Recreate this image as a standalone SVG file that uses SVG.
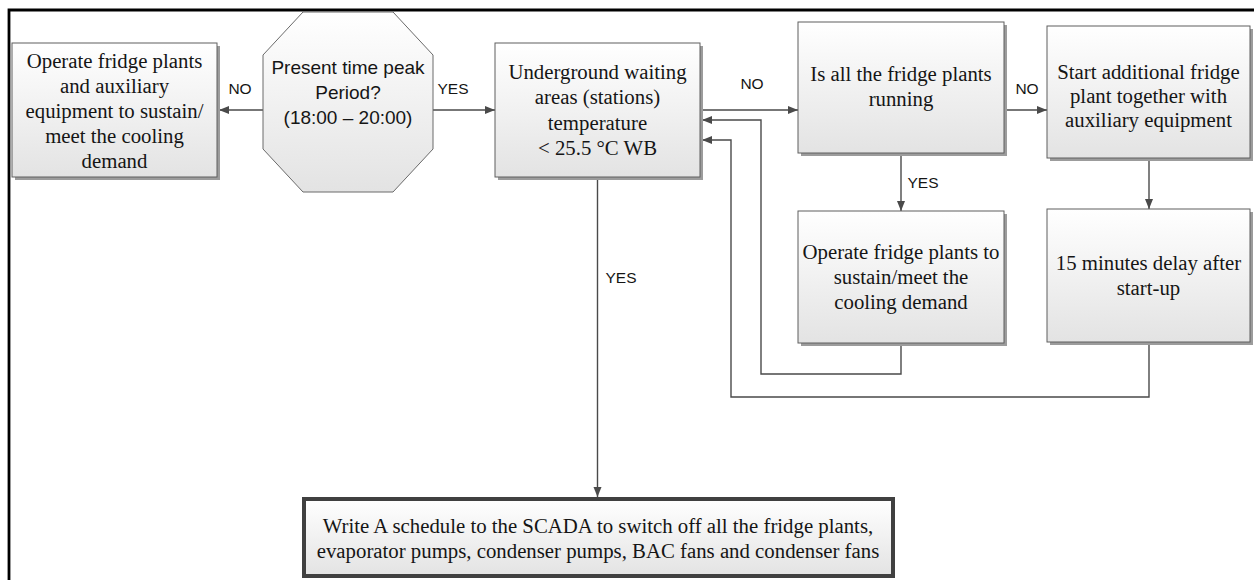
<svg xmlns="http://www.w3.org/2000/svg" width="1254" height="580" viewBox="0 0 1254 580">
<style>
.box{fill:url(#g);stroke:#5f5f5f;stroke-width:1}
.sh{fill:#9c9c9c}
.t{font-family:"Liberation Serif","Times New Roman",serif;font-size:20.8px;fill:#151515;text-anchor:middle}
.s{font-family:"Liberation Sans",Arial,sans-serif;font-size:19px;fill:#151515;text-anchor:middle}
.lbl{font-family:"Liberation Sans",Arial,sans-serif;font-size:15.5px;fill:#151515;text-anchor:middle}
.c{fill:none;stroke:#4a4a4a;stroke-width:1.4;marker-end:url(#ah)}
.cl{fill:none;stroke:#4a4a4a;stroke-width:1.4}
</style>
<defs>
<linearGradient id="g" x1="0" y1="0" x2="0" y2="1">
<stop offset="0" stop-color="#ffffff"/>
<stop offset="1" stop-color="#e3e3e3"/>
</linearGradient>
<marker id="ah" markerUnits="userSpaceOnUse" markerWidth="10" markerHeight="10" viewBox="0 0 10 10" refX="10" refY="5" orient="auto">
<path d="M0,1 L10,5 L0,9 Z" fill="#4a4a4a"/>
</marker>
</defs>
<rect width="1254" height="580" fill="#ffffff"/>
<g id="frame">
<path d="M9,580 V10 H1254" fill="none" stroke="#000" stroke-width="2.8"/>
</g>
<g id="connectors">
<path class="c" d="M263,110 H219"/>
<path class="c" d="M433,110 H495"/>
<path class="c" d="M702,110 H798"/>
<path class="c" d="M1004,110 H1047"/>
<path class="c" d="M901,153 V211"/>
<path class="c" d="M1149,158 V209"/>
<path class="c" d="M597.5,177 V497"/>
<path class="c" d="M901,343 V374 H761 V120 H702"/>
<path class="c" d="M1149,342 V397 H731 V140 H702"/>
<text class="lbl" x="240" y="94">NO</text>
<text class="lbl" x="453" y="94">YES</text>
<text class="lbl" x="752" y="89">NO</text>
<text class="lbl" x="1027" y="94">NO</text>
<text class="lbl" x="923" y="188">YES</text>
<text class="lbl" x="621" y="283">YES</text>
</g>
<g id="n-operate-aux">
<rect class="sh" x="15" y="46" width="205" height="134"/>
<rect class="box" x="12" y="43" width="205" height="134"/>
<text class="t" x="114.5" y="68">Operate fridge plants</text>
<text class="t" x="114.5" y="93">and auxiliary</text>
<text class="t" x="114.5" y="118">equipment to sustain/</text>
<text class="t" x="114.5" y="143">meet the cooling</text>
<text class="t" x="114.5" y="168">demand</text>
</g>
<g id="n-peak">
<polygon points="303,12 393,12 433,55 433,149 393,192 303,192 263,149 263,55" fill="url(#g)" stroke="#6a6a6a" stroke-width="1"/>
<text class="s" x="348" y="74">Present time peak</text>
<text class="s" x="348" y="99">Period?</text>
<text class="s" x="348" y="124">(18:00 – 20:00)</text>
</g>
<g id="n-temp">
<rect class="sh" x="498" y="46" width="205" height="134"/>
<rect class="box" x="495" y="43" width="205" height="134"/>
<text class="t" x="597.5" y="79">Underground waiting</text>
<text class="t" x="597.5" y="104">areas (stations)</text>
<text class="t" x="597.5" y="130">temperature</text>
<text class="t" x="597.5" y="155">&lt; 25.5 °C WB</text>
</g>
<g id="n-allrunning">
<rect class="sh" x="801" y="25" width="206" height="131"/>
<rect class="box" x="798" y="22" width="206" height="131"/>
<text class="t" x="901" y="81">Is all the fridge plants</text>
<text class="t" x="901" y="106">running</text>
</g>
<g id="n-start">
<rect class="sh" x="1050" y="29" width="203" height="132"/>
<rect class="box" x="1047" y="26" width="203" height="132"/>
<text class="t" x="1148.5" y="79">Start additional fridge</text>
<text class="t" x="1148.5" y="103">plant together with</text>
<text class="t" x="1148.5" y="127">auxiliary equipment</text>
</g>
<g id="n-sustain">
<rect class="sh" x="801" y="214" width="206" height="132"/>
<rect class="box" x="798" y="211" width="206" height="132"/>
<text class="t" x="901" y="259">Operate fridge plants to</text>
<text class="t" x="901" y="284">sustain/meet the</text>
<text class="t" x="901" y="309">cooling demand</text>
</g>
<g id="n-delay">
<rect class="sh" x="1050" y="212" width="203" height="133"/>
<rect class="box" x="1047" y="209" width="203" height="133"/>
<text class="t" x="1148.5" y="270">15 minutes delay after</text>
<text class="t" x="1148.5" y="295">start-up</text>
</g>
<g id="n-scada">
<rect x="306" y="501" width="589" height="77" fill="#8a8a8a"/>
<rect x="304" y="499" width="589" height="77" fill="url(#g)" stroke="#404040" stroke-width="4"/>
<text class="t" x="598" y="533">Write A schedule to the SCADA to switch off all the fridge plants,</text>
<text class="t" x="598" y="558">evaporator pumps, condenser pumps, BAC fans and condenser fans</text>
</g>
</svg>
